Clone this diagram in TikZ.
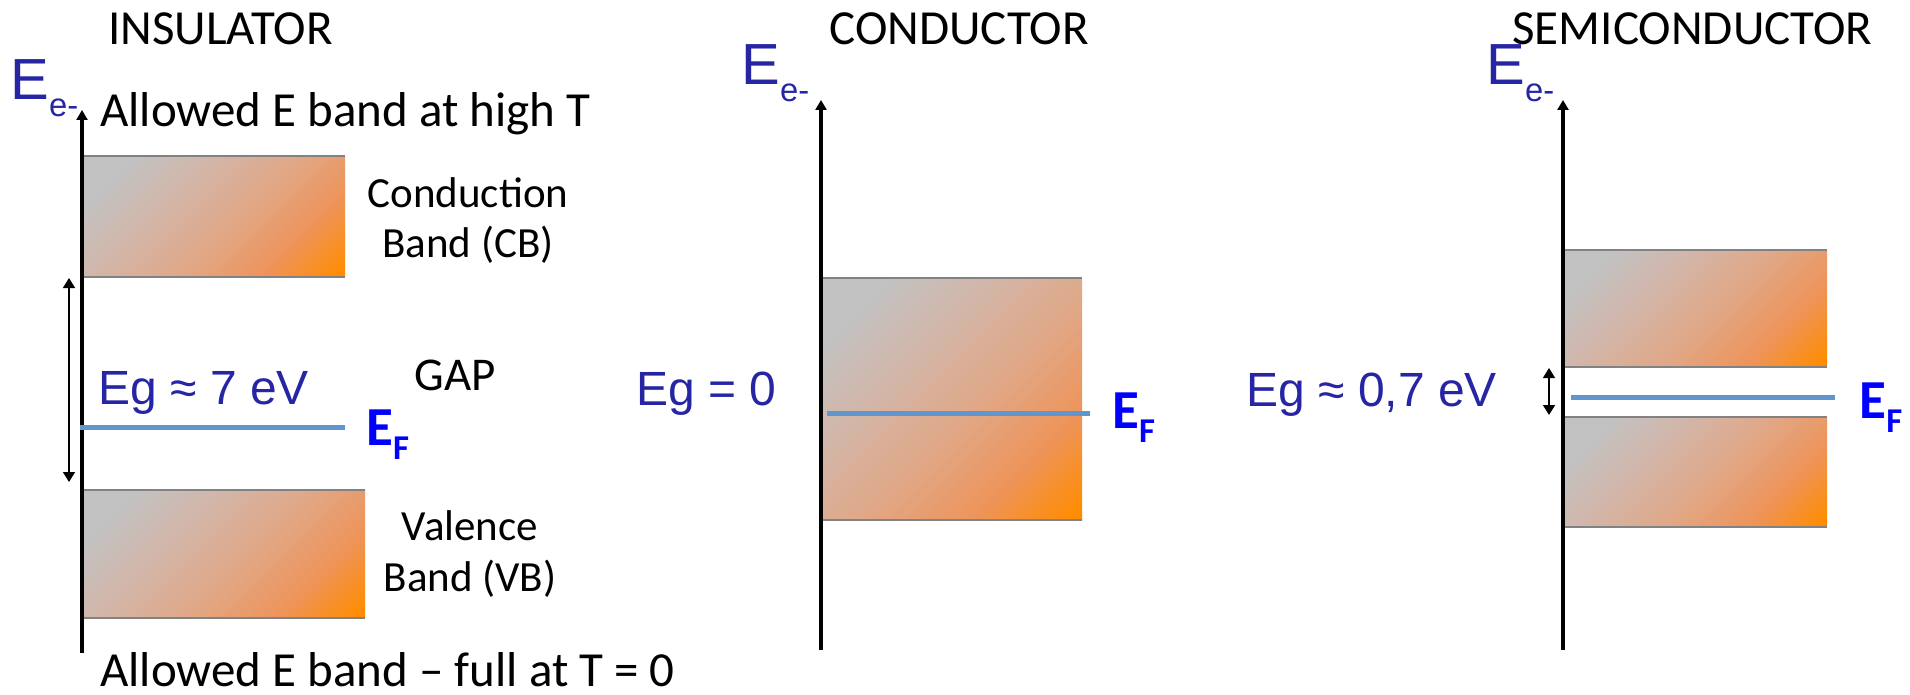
\documentclass[tikz,border=0pt]{standalone}
\usepackage{fontspec}
\setmainfont{Carlito}
\newfontfamily\arialfont{Liberation Sans}
\usetikzlibrary{arrows.meta}
\definecolor{bandgray}{RGB}{194,194,194}
\definecolor{bandmauve}{RGB}{210,182,170}
\definecolor{bandpeach}{RGB}{224,168,136}
\definecolor{bandsalmon}{RGB}{238,148,90}
\definecolor{bandorange}{RGB}{255,140,0}
\definecolor{edgegray}{RGB}{130,130,130}
\definecolor{fermiblue}{RGB}{96,150,205}
\definecolor{labelblue}{RGB}{38,38,165}
\definecolor{efblue}{RGB}{0,0,255}
\pgfdeclarehorizontalshading{bandshade}{100bp}{color(0bp)=(bandgray); color(24bp)=(bandgray);
  color(38bp)=(bandmauve); color(54bp)=(bandpeach); color(70bp)=(bandsalmon); color(84bp)=(bandorange);
  color(100bp)=(bandorange)}
\newcommand{\Eaxis}{{\fontsize{29}{30}\selectfont E}{\fontsize{16.4}{17}\selectfont\raisebox{-8.5pt}{e-}}}
\newcommand{\EF}{E{\fontsize{17.4}{18}\selectfont\raisebox{-7pt}{F}}}

\begin{document}
\begin{tikzpicture}[x=0.5pt,y=-0.5pt,
  band/.style={shading=bandshade, shading angle=-45},
  bandedge/.style={edgegray, line width=1pt},
  axisline/.style={line width=2pt, -{Triangle[width=5.5pt,length=5pt]}},
  gaparrow/.style={line width=0.7pt, {Triangle[width=6pt,length=5pt]}-{Triangle[width=6pt,length=5pt]}},
  fermi/.style={fermiblue, line width=2.5pt},
  fermishadow/.style={black, opacity=0.15, line width=2.5pt, shift={(1.5,3)}},
  heading/.style={font=\fontsize{24.5}{28}\selectfont, anchor=base west, inner sep=0pt},
  bandnote/.style={font=\fontsize{21.5}{25}\selectfont, anchor=base, inner sep=0pt},
  eglabel/.style={labelblue, font=\arialfont\fontsize{24}{26}\selectfont, anchor=base west, inner sep=0pt},
  eflabel/.style={efblue, font=\bfseries\fontsize{27.5}{30}\selectfont, anchor=base west, inner sep=0pt},
  elabel/.style={labelblue, font=\arialfont, anchor=base west, inner sep=0pt}]
  \useasboundingbox (0,0) rectangle (1910,695);

  % insulator
  \node[heading] (ins-title) at (108,45) {INSULATOR};
  \node[elabel] (ins-e) at (10,100) {\Eaxis};
  \node[heading] (ins-high) at (100,127) {Allowed E band at high T};
  \shade[band] (82,156) rectangle (345,277);
  \draw[bandedge] (82,156) -- (345,156) (82,277) -- (345,277);
  \shade[band] (82,490) rectangle (365,618);
  \draw[bandedge] (82,490) -- (365,490) (82,618) -- (365,618);
  \coordinate (ins-bot) at (82,653);
  \coordinate (ins-top) at (82,110);
  \draw[axisline] (ins-bot) -- (ins-top);
  \coordinate (ins-gtop) at (69,278);
  \coordinate (ins-gbot) at (69,482);
  \draw[gaparrow] (ins-gtop) -- (ins-gbot);
  \coordinate (ins-f1) at (80,427);
  \coordinate (ins-f2) at (345,427);
  \draw[fermishadow] (ins-f1) -- (ins-f2);
  \draw[fermi] (ins-f1) -- (ins-f2);
  \node[eflabel] (ins-ef) at (366,445) {\EF};
  \node[eglabel] (ins-eg) at (98,404) {Eg ≈ 7 eV};
  \node[heading, font=\fontsize{23.5}{26}\selectfont] (ins-gap) at (414,390) {GAP};
  \node[bandnote] (ins-cb1) at (468,208) {Conduction};
  \node[bandnote] (ins-cb2) at (468,257) {Band (CB)};
  \node[bandnote] (ins-vb1) at (470,540) {Valence};
  \node[bandnote] (ins-vb2) at (470,591) {Band (VB)};
  \node[heading] (ins-full) at (100,686) {Allowed E band – full at T = 0};

  % conductor
  \node[heading] (con-title) at (829,45) {CONDUCTOR};
  \node[elabel] (con-e) at (741,85) {\Eaxis};
  \shade[band] (821,278) rectangle (1082,520);
  \draw[bandedge] (821,278) -- (1082,278) (821,520) -- (1082,520);
  \coordinate (con-bot) at (821,650);
  \coordinate (con-top) at (821,100);
  \draw[axisline] (con-bot) -- (con-top);
  \coordinate (con-f1) at (827,413);
  \coordinate (con-f2) at (1090,413);
  \draw[fermishadow] (con-f1) -- (con-f2);
  \draw[fermi] (con-f1) -- (con-f2);
  \node[eflabel] (con-ef) at (1112,428) {\EF};
  \node[eglabel] (con-eg) at (636,405) {Eg = 0};

  % semiconductor
  \node[heading] (sem-title) at (1512,45) {SEMICONDUCTOR};
  \node[elabel] (sem-e) at (1486,85) {\Eaxis};
  \shade[band] (1563,250) rectangle (1827,367);
  \draw[bandedge] (1563,250) -- (1827,250) (1563,367) -- (1827,367);
  \shade[band] (1563,417) rectangle (1827,527);
  \draw[bandedge] (1563,417) -- (1827,417) (1563,527) -- (1827,527);
  \coordinate (sem-bot) at (1563,650);
  \coordinate (sem-top) at (1563,100);
  \draw[axisline] (sem-bot) -- (sem-top);
  \coordinate (sem-gtop) at (1549,368);
  \coordinate (sem-gbot) at (1549,415);
  \draw[gaparrow] (sem-gtop) -- (sem-gbot);
  \coordinate (sem-f1) at (1571,397);
  \coordinate (sem-f2) at (1835,397);
  \draw[fermishadow] (sem-f1) -- (sem-f2);
  \draw[fermi] (sem-f1) -- (sem-f2);
  \node[eflabel] (sem-ef) at (1859,418) {\EF};
  \node[eglabel] (sem-eg) at (1246,406) {Eg ≈ 0,7 eV};
\end{tikzpicture}
\end{document}
